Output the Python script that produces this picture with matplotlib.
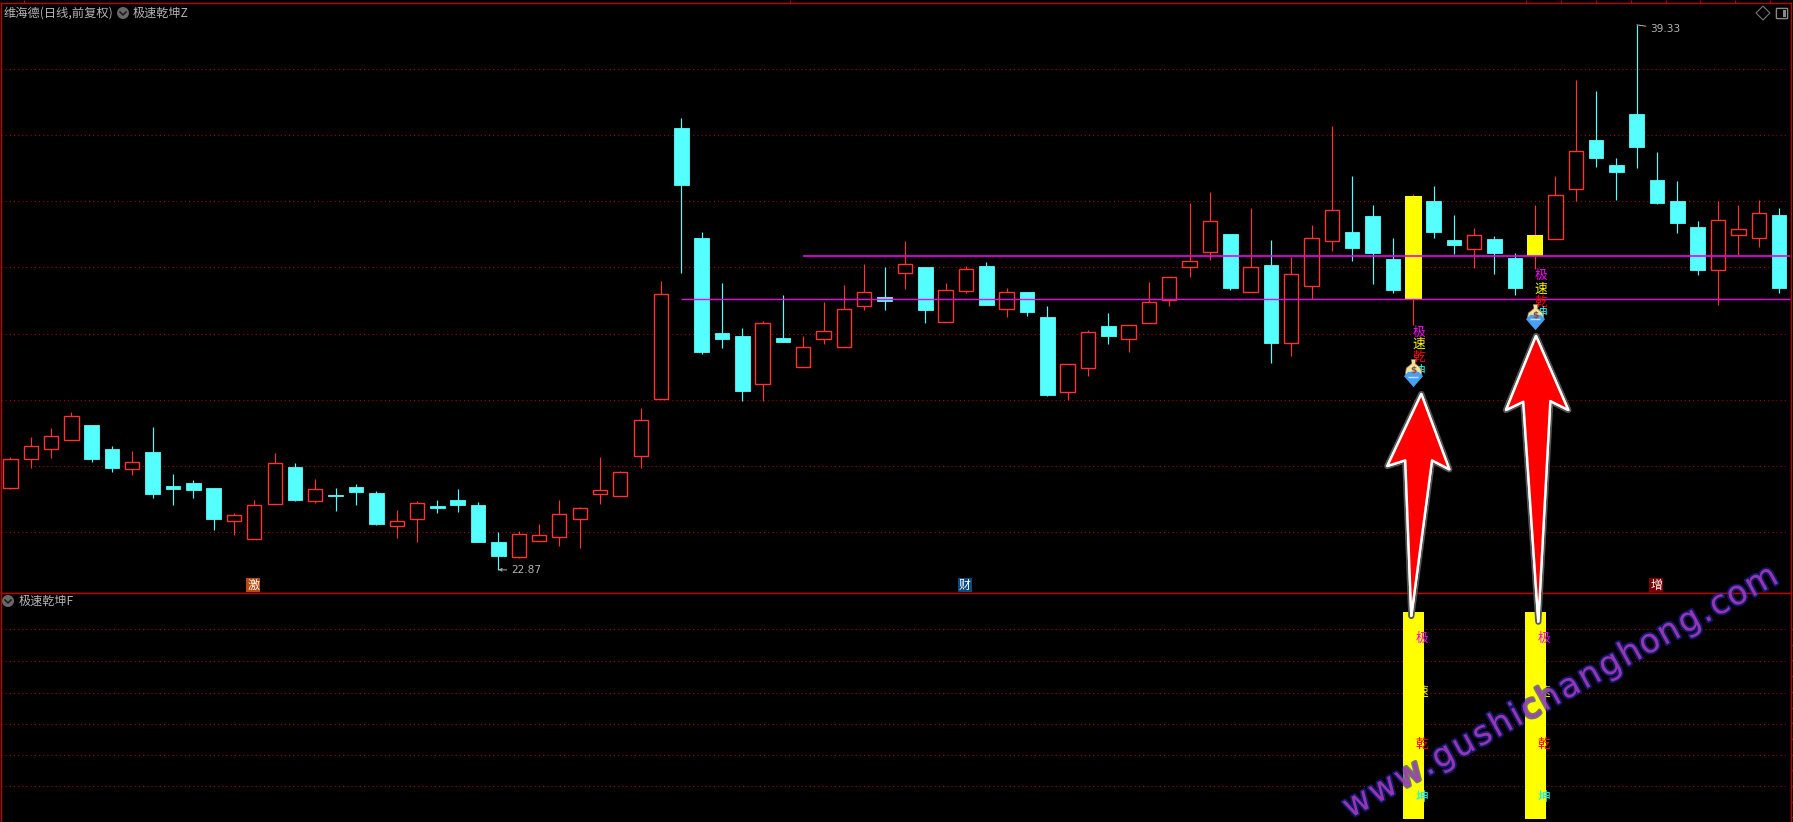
import numpy as np
import matplotlib
matplotlib.use("Agg")
import matplotlib.pyplot as plt
import matplotlib.patheffects as pe
from matplotlib.patches import Polygon, Circle, FancyBboxPatch
from matplotlib.textpath import TextPath
from matplotlib.font_manager import FontProperties

plt.rcParams['font.family'] = ['Noto Sans CJK SC', 'DejaVu Sans']

# daily prices
opens = [25.35, 26.22, 26.53, 26.80, 27.24, 26.52, 25.92, 26.43, 25.40, 25.49, 25.34, 24.35,
         23.81, 24.84, 25.97, 24.96, 25.13, 25.37, 25.19, 24.20, 24.41, 24.79, 24.98, 24.82,
         23.71, 23.26, 23.75, 23.87, 24.41, 25.17, 25.09, 26.30, 28.02, 36.21, 32.89, 30.02,
         29.93, 28.49, 29.87, 29.00, 29.85, 29.61, 30.85, 31.11, 31.84, 32.01, 30.36, 31.30,
         32.05, 30.76, 31.26, 30.50, 28.25, 28.97, 30.23, 29.85, 30.33, 31.01, 32.00, 32.48,
         33.01, 31.27, 32.08, 29.71, 31.45, 32.81, 33.07, 33.56, 32.27, 31.05, 34.01, 32.83,
         32.57, 32.86, 32.29, 32.35, 32.87, 34.38, 35.85, 35.10, 36.64, 34.64, 34.01, 33.22,
         31.91, 32.99, 32.90, 33.59]
closes = [26.20, 26.60, 26.90, 27.50, 26.22, 25.94, 26.11, 25.16, 25.31, 25.28, 24.40, 24.51,
          24.82, 26.08, 24.98, 25.30, 25.11, 25.22, 24.25, 24.33, 24.88, 24.73, 24.82, 23.71,
          23.28, 23.94, 23.91, 24.54, 24.72, 25.27, 25.81, 27.38, 31.19, 34.49, 29.45, 29.84,
          28.27, 30.31, 29.75, 29.59, 30.07, 30.74, 31.25, 30.99, 32.10, 30.72, 31.31, 31.94,
          30.87, 31.25, 30.66, 28.15, 29.07, 30.04, 29.93, 30.25, 30.95, 31.70, 32.19, 33.39,
          31.38, 32.00, 29.72, 31.79, 32.88, 33.73, 32.59, 32.44, 31.32, 34.16, 33.07, 32.68,
          32.97, 32.44, 31.38, 32.98, 34.18, 35.51, 35.31, 34.89, 35.64, 33.95, 33.34, 31.92,
          33.42, 33.15, 33.64, 31.38]
highs = [26.27, 26.88, 27.15, 27.64, 27.24, 26.61, 26.46, 27.18, 25.76, 25.58, 25.34, 24.58,
         24.98, 26.40, 26.09, 25.61, 25.34, 25.46, 25.25, 24.67, 24.95, 24.98, 25.31, 24.91,
         24.01, 24.04, 24.25, 24.98, 24.76, 26.28, 25.85, 27.76, 31.59, 36.52, 33.07, 31.53,
         30.17, 30.38, 31.17, 29.93, 30.96, 31.47, 32.11, 32.01, 32.80, 32.01, 31.53, 32.05,
         32.17, 31.38, 31.26, 30.84, 29.07, 30.11, 30.63, 30.25, 31.56, 31.70, 33.95, 34.28,
         33.01, 33.80, 32.83, 32.32, 33.28, 36.27, 34.76, 33.89, 32.89, 34.22, 34.46, 33.59,
         33.19, 32.95, 32.44, 33.89, 34.76, 37.66, 37.33, 35.31, 39.33, 35.49, 34.61, 33.40,
         34.00, 33.89, 34.04, 33.80]
lows = [25.31, 25.94, 26.24, 26.80, 26.12, 25.82, 25.73, 25.04, 24.82, 25.04, 24.07, 23.92,
        23.81, 24.84, 24.94, 24.89, 24.64, 24.82, 24.22, 23.83, 23.71, 24.58, 24.61, 23.71,
        22.87, 23.22, 23.75, 23.59, 23.53, 24.86, 25.09, 25.95, 28.02, 31.83, 29.39, 29.57,
        27.97, 27.97, 29.75, 29.00, 29.69, 29.61, 30.72, 30.72, 31.35, 30.32, 30.36, 31.23,
        30.87, 30.50, 30.53, 28.12, 28.00, 28.72, 29.69, 29.45, 30.33, 30.84, 31.71, 32.23,
        31.32, 31.27, 29.12, 29.34, 31.05, 32.50, 32.20, 31.50, 31.23, 30.26, 32.89, 32.41,
        31.98, 31.80, 31.17, 31.94, 32.87, 34.01, 35.04, 34.04, 35.01, 33.92, 33.04, 31.77,
        30.87, 32.38, 32.62, 31.23]

grid_prices = [24, 26, 28, 30, 32, 34, 36, 38]
sub_grid = [16, 31, 46, 61, 76.5, 92]

# signal days (yellow bars)
signal_days = [69, 75]
signal_top = 100
signal_chars = ['极', '速', '乾', '坤']
signal_colors = ['#ff00ff', '#ffff00', '#ff0000', '#00ffff']
main_char_prices = [[30.05, 29.69, 29.30, 28.87], [31.75, 31.35, 30.96, 30.60]]
sub_char_values = [87, 61, 36, 10.6]
bag_prices = [28.96, 30.62]
gem_prices = [28.63, 30.36]

# horizontal support lines: start day, price
level_starts = [33, 39]
level_prices = [31.05, 32.35]

# tags along the bottom of the price pane
tag_days = [12, 47, 81]
tag_texts = ['激', '财', '增']
tag_colors = ['#b84a10', '#0a4a80', '#7a0000']

watermark = 'www.gushichanghong.com'

RED = '#ff3232'
CYAN = '#55ffff'
FRAME = '#c00000'
GRIDC = '#a80000'
GREY = '#b4b4b4'

W, H = 1793, 822
X0, DX = 10.4, 20.33   # first candle pixel, pixels per candle
FT, FM = 3.0, 592.5   # frame top, pane split
FL, FR = 1.0, 1791.0


def price_at(y):
    return 24 + (532.3 - y) * 0.03021


def sub_at(y):
    return (819 - y) * 100 / 207


fig = plt.figure(figsize=(W / 100, H / 100), dpi=100, facecolor='black')
ax = fig.add_axes([FL / W, 1 - FM / H, (FR - FL) / W, (FM - FT) / H], facecolor='black')
sub = fig.add_axes([FL / W, 0, (FR - FL) / W, 1 - FM / H], facecolor='black')
xlim = ((FL - X0) / DX, (FR - X0) / DX)

for a in (ax, sub):
    a.set_xlim(xlim)
    a.set_xticks([])
    a.set_yticks([])
    for s in a.spines.values():
        s.set_color(FRAME)
        s.set_linewidth(1.0)
sub.spines['bottom'].set_visible(False)
ax.set_ylim(price_at(FM), price_at(FT))
sub.set_ylim(sub_at(H), sub_at(FM))

ax.hlines(grid_prices, xlim[0], xlim[1] - 0.25, color=GRIDC, lw=0.75, ls=(0, (1, 3)), zorder=1)
sub.hlines(sub_grid, xlim[0], xlim[1] - 0.25, color=GRIDC, lw=0.75, ls=(0, (1, 3)), zorder=1)

days = np.arange(len(opens))
o, c, h, l = map(np.array, (opens, closes, highs, lows))
up = c > o
is_signal = np.isin(days, signal_days)

ax.vlines(days[up], l[up], h[up], color=RED, lw=0.85, zorder=2)
ax.vlines(days[~up], l[~up], h[~up], color=CYAN, lw=0.85, zorder=2)

mask = up & ~is_signal
ax.bar(days[mask], (c - o)[mask], bottom=o[mask], width=0.70, color='black', edgecolor=RED, lw=1.0, zorder=3)
ax.bar(days[~up], (o - c)[~up], bottom=c[~up], width=0.72, color=CYAN, edgecolor=CYAN, lw=0.6, zorder=3)
ax.bar(days[is_signal], (c - o)[is_signal], bottom=o[is_signal], width=0.82, color='#ffff00', lw=0, zorder=3)

# support lines
for start, p, lw in zip(level_starts, level_prices, [1.0, 1.2]):
    ax.hlines(p, start, xlim[1] - 0.05, color='#f000f0', lw=lw, zorder=4)

# money bag and gem shapes
gem_shape = [(-1, 0.35), (-0.55, 0.8), (0.55, 0.8), (1, 0.35), (0, -0.8)]
bag_shape = [(-0.25, 1), (0.25, 1), (0.18, 0.55), (0.8, 0.05), (0.9, -0.6), (0.6, -1), (-0.6, -1), (-0.9, -0.6),
             (-0.8, 0.05), (-0.18, 0.55)]

# signal characters and icons on the price pane
for d, prices, bag, gem in zip(signal_days, main_char_prices, bag_prices, gem_prices):
    for ch, col, p in zip(signal_chars, signal_colors, prices):
        ax.text(d + 0.28, p, ch, color=col, fontsize=9.2, ha='center', va='center', zorder=5)
    ax.scatter(d, gem, marker=gem_shape, s=190, color='#4aa0f0', lw=0, zorder=7)
    ax.scatter(d, gem + 0.07, marker='_', s=60, color='#b8e4ff', lw=1.0, zorder=8)
    ax.scatter(d, bag, marker=bag_shape, s=170, color='#f2e2a0', edgecolor='#a06a30', lw=0.5, zorder=6)
    ax.text(d, bag - 0.06, '$', color='#8a4a40', fontsize=6.5, ha='center', va='center',
            fontweight='bold', family='DejaVu Sans', zorder=8)

# indicator pane
sub.bar(signal_days, [signal_top] * len(signal_days), width=1.03, color='#ffff00', lw=0, zorder=3)
for d in signal_days:
    for ch, col, v in zip(signal_chars, signal_colors, sub_char_values):
        sub.text(d + 0.43, v, ch, color=col, fontsize=9.2, ha='center', va='center', zorder=5)

# high and low flags
i_low, i_high = int(np.argmin(l)), int(np.argmax(h))
ax.annotate(f'{l[i_low]:.2f}', xy=(i_low, l[i_low]), xytext=(9, -0.5), textcoords='offset points',
            color=GREY, fontsize=7.6, family='DejaVu Sans', va='center', ha='left',
            arrowprops=dict(arrowstyle='->', color=GREY, lw=0.7, shrinkA=1, shrinkB=0, mutation_scale=5))
ax.annotate(f'{h[i_high]:.2f}', xy=(i_high, h[i_high]), xytext=(9.5, -3), textcoords='offset points',
            color=GREY, fontsize=7.6, family='DejaVu Sans', va='center', ha='left',
            arrowprops=dict(arrowstyle='-', color=GREY, lw=0.7, shrinkA=1, shrinkB=0))

# tags
for d, t, col in zip(tag_days, tag_texts, tag_colors):
    ax.text(d - 0.05, price_at(585), t, color='white', fontsize=8.6, ha='center', va='center', zorder=5,
            bbox=dict(boxstyle='square,pad=0.08', facecolor=col, edgecolor='none'))

# overlay in pixels for the window furniture, arrows, watermark
deco = fig.add_axes([0, 0, 1, 1], facecolor='none', zorder=10)
deco.set_xlim(0, W)
deco.set_ylim(H, 0)
deco.axis('off')

deco.text(4, 13, '维海德(日线,前复权)', color=GREY, fontsize=8.8, va='center')
deco.text(133, 13, '极速乾坤Z', color=GREY, fontsize=8.7, va='center')
deco.text(19, 601, '极速乾坤F', color=GREY, fontsize=8.7, va='center')
for cx, cy in [(123, 13), (8, 601)]:
    deco.add_patch(Circle((cx, cy), 6, color='#686868', lw=0))
    deco.plot([cx - 3, cx, cx + 3], [cy - 1, cy + 2, cy - 1], color='#1a1a1a', lw=1.1)

deco.scatter([1763], [13], marker='D', s=50, facecolor='none', edgecolor='#777777', lw=0.8)
deco.add_patch(FancyBboxPatch((1777, 9), 10, 9, boxstyle='round,pad=0.6', facecolor='none',
                              edgecolor='#888888', lw=1))
deco.add_patch(plt.Rectangle((1783, 10), 3, 7, color='#888888', lw=0))

# date ticks on the top edge, scale ticks on the right edge
deco.vlines([24, 790, 1526, 1561, 1596, 1631, 1666, 1700, 1735, 1770], 0, FT, color=FRAME, lw=0.8)
deco.hlines(np.arange(629, 822, 15.7), FR, W, color=FRAME, lw=0.7)

arrow_left = [(1421.3, 394), (1449.3, 469.3), (1432, 460.3), (1411.3, 616), (1405.3, 460.3), (1387.3, 466)]
arrow_right = [(1536, 336), (1568.3, 410), (1550.3, 401), (1538.3, 621.7), (1523.3, 401.7), (1506, 410)]
for pts in (arrow_left, arrow_right):
    deco.add_patch(Polygon(pts, closed=True, facecolor='#ff0000', edgecolor='white', lw=1.7, joinstyle='round',
                           path_effects=[pe.withStroke(linewidth=4.5, foreground='#555555'), pe.Normal()]))

# watermark, one letter at a time for the wide spacing
wm_size = 24.0
wm_gap = 2.2
wm_deg = 28.8
wm_angle = np.deg2rad(wm_deg)
fp = FontProperties(family='DejaVu Sans', size=wm_size)
adv = []
for ch in watermark:
    ext = TextPath((0, 0), 'x' + ch + 'x', size=wm_size * 100 / 72, prop=fp).get_extents().width
    base = TextPath((0, 0), 'xx', size=wm_size * 100 / 72, prop=fp).get_extents().width
    adv.append(ext - base + wm_gap)
dist = 0.0
for ch, a in zip(watermark, adv):
    mid = dist + a / 2
    deco.text(1349 + mid * np.cos(wm_angle), 819 - mid * np.sin(wm_angle), ch, rotation=wm_deg,
              rotation_mode='anchor', ha='center', va='baseline', fontsize=wm_size, family='DejaVu Sans',
              color=(0.78, 0.25, 0.72), alpha=0.62,
              path_effects=[pe.withStroke(linewidth=2.6, foreground=(0.12, 0.15, 0.7))])
    dist += a

fig.savefig('out.png', dpi=100, facecolor='black')
